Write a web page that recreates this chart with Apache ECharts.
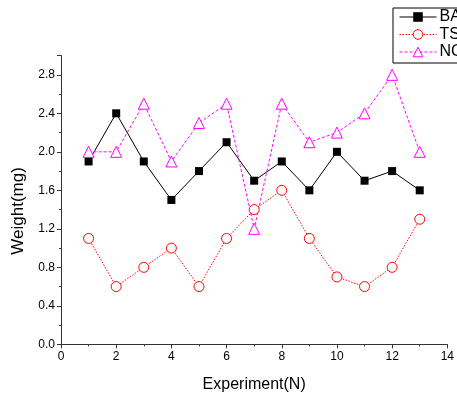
<!DOCTYPE html>
<html><head><meta charset="utf-8">
<script src="https://cdn.jsdelivr.net/npm/echarts@6/dist/echarts.min.js"></script>
<style>html,body{margin:0;padding:0;background:#fff}#c{width:457px;height:398px}</style>
</head><body><div id="c"></div>
<script>
const experiments = [1,2,3,4,5,6,7,8,9,10,11,12,13];
const baValues = [1.9, 2.4, 1.9, 1.5, 1.8, 2.1, 1.7, 1.9, 1.6, 2.0, 1.7, 1.8, 1.6];
const tsValues = [1.1, 0.6, 0.8, 1.0, 0.6, 1.1, 1.4, 1.6, 1.1, 0.7, 0.6, 0.8, 1.3];
const ncValues = [2.0, 2.0, 2.5, 1.9, 2.3, 2.5, 1.2, 2.5, 2.1, 2.2, 2.4, 2.8, 2.0];
const seriesNames = ['BA', 'TS', 'NC'];

const pair = v => experiments.map((x, i) => [x, v[i]]);
const axisColor = '#333';
const font = 'Liberation Sans, Arial, sans-serif';

const chart = echarts.init(document.getElementById('c'));
chart.setOption({
  animation: false,
  grid: {left: 61, right: 6, top: 55.6, bottom: 53.7, containLabel: false},
  legend: {
    left: 393, top: 8, orient: 'vertical',
    borderColor: '#000', borderWidth: 1, backgroundColor: '#fff',
    padding: [1, 30, 3, 6],
    itemWidth: 37, itemHeight: 12, itemGap: 1.5,
    itemStyle: {borderWidth: 1},
    lineStyle: {width: 1},
    textStyle: {fontFamily: font, fontSize: 16, color: '#000', padding: [0,0,0,-2]},
    data: seriesNames
  },
  xAxis: {
    type: 'value', min: 0, max: 14, interval: 2,
    name: 'Experiment(N)', nameLocation: 'middle', nameGap: 32,
    nameTextStyle: {fontFamily: font, fontSize: 16, color: '#000'},
    axisLine: {lineStyle: {color: axisColor, width: 1}},
    axisTick: {show: true, length: 4, lineStyle: {color: axisColor}},
    minorTick: {show: true, splitNumber: 2, length: 2, lineStyle: {color: axisColor}},
    axisLabel: {fontFamily: font, fontSize: 12, color: '#000', margin: 6},
    splitLine: {show: false}
  },
  yAxis: {
    type: 'value', min: 0, max: 3.0, interval: 0.4,
    name: 'Weight(mg)', nameLocation: 'middle', nameGap: 34,
    nameTextStyle: {fontFamily: font, fontSize: 17, color: '#000', padding: [0, 22, 0, 0]},
    axisLine: {show: true, lineStyle: {color: axisColor, width: 1}},
    axisTick: {show: true, length: 4, lineStyle: {color: axisColor}},
    minorTick: {show: true, splitNumber: 2, length: 2, lineStyle: {color: axisColor}},
    axisLabel: {fontFamily: font, fontSize: 12, color: '#000', margin: 6,
      formatter: v => (Math.abs(v - 3.0) < 1e-9 ? '' : v.toFixed(1))},
    splitLine: {show: false}
  },
  series: [
    {name: seriesNames[0], type: 'line', data: pair(baValues),
     symbol: 'rect', symbolSize: 8,
     itemStyle: {color: '#000'}, lineStyle: {color: '#000', width: 1}},
    {name: seriesNames[1], type: 'line', data: pair(tsValues),
     symbol: 'circle', symbolSize: 10,
     itemStyle: {color: '#fff', borderColor: '#ff0000', borderWidth: 1},
     lineStyle: {color: '#ff0000', width: 1, type: [1.5, 1.5]}},
    {name: seriesNames[2], type: 'line', data: pair(ncValues),
     symbol: 'triangle', symbolSize: 11,
     itemStyle: {color: '#fff', borderColor: '#ff00ff', borderWidth: 1},
     lineStyle: {color: '#ff00ff', width: 1, type: [3, 2]}}
  ]
});
</script></body></html>
